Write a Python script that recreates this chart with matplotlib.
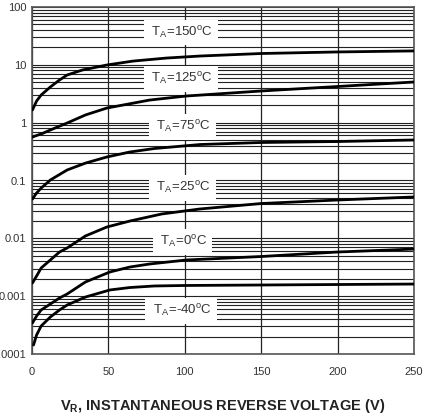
import numpy as np
import matplotlib
matplotlib.use('Agg')
import matplotlib.pyplot as plt

plt.rcParams['font.family'] = ['Liberation Sans', 'DejaVu Sans']
plt.rcParams['mathtext.fontset'] = 'custom'
plt.rcParams['mathtext.rm'] = 'Liberation Sans'
plt.rcParams['mathtext.bf'] = 'Liberation Sans:bold'

# Reverse current curves (V, I), one pair per temperature
v_150 = [0.3, 3, 6, 12, 18, 23, 33, 49, 66, 88, 110, 150, 200, 250]
i_150 = [1.66, 2.37, 3.01, 4.14, 5.47, 6.67, 8.14, 9.93, 11.6, 13.1, 14.2, 15.7, 16.7, 17.4]

v_125 = [0.3, 3, 6, 12, 23, 35, 49, 77, 101, 150, 200, 250]
i_125 = [0.565, 0.600, 0.637, 0.747, 0.986, 1.36, 1.79, 2.46, 2.89, 3.53, 4.22, 5.05]

v_75 = [0.3, 3, 6, 12, 23, 35, 49, 64, 80, 110, 150, 200, 250]
i_75 = [0.0479, 0.0608, 0.0741, 0.102, 0.152, 0.200, 0.255, 0.311, 0.357, 0.419, 0.454, 0.472, 0.502]

v_25 = [0.3, 3, 6, 12, 18, 23, 35, 49, 64, 85, 110, 150, 200, 250]
i_25 = [1.69e-3, 2.23e-3, 3.07e-3, 4.22e-3, 5.80e-3, 6.81e-3, 0.0110, 0.0157, 0.0199,
        0.0264, 0.0322, 0.0400, 0.0460, 0.0519]

v_0 = [0.3, 3, 6, 12, 18, 23, 35, 51, 64, 77, 101, 136, 150, 200, 250]
i_0 = [3.44e-4, 4.54e-4, 5.77e-4, 7.32e-4, 9.29e-4, 1.09e-3, 1.76e-3, 2.62e-3, 3.19e-3,
       3.60e-3, 4.22e-3, 4.66e-3, 4.85e-3, 5.80e-3, 6.53e-3]

v_m40 = [1, 3, 6, 12, 18, 23, 35, 51, 64, 80, 100, 150, 200, 250]
i_m40 = [1.43e-4, 2.13e-4, 3.05e-4, 4.36e-4, 5.77e-4, 7.03e-4, 9.67e-4, 1.28e-3, 1.41e-3,
         1.50e-3, 1.53e-3, 1.56e-3, 1.59e-3, 1.62e-3]

curves = [(v_150, i_150), (v_125, i_125), (v_75, i_75),
          (v_25, i_25), (v_0, i_0), (v_m40, i_m40)]

# temperature labels and where they sit
temps = ['150', '125', '75', '25', '0', '-40']
label_v = [97.5, 97.5, 98.5, 98.5, 98.5, 97.5]
label_i = [36.2, 5.69, 0.841, 0.0741, 8.63e-3, 5.53e-4]

x_ticks = [0, 50, 100, 150, 200, 250]
y_ticks = [1e-4, 1e-3, 1e-2, 1e-1, 1, 10, 100]
y_ticklabels = ['0.0001', '0.001', '0.01', '0.1', '1', '10', '100']

fig = plt.figure(figsize=(4.28, 4.15), dpi=100)
ax = fig.add_axes([32/428, 61/415, 382/428, 347/415])

ax.set_yscale('log')
ax.set_xlim(0, 250)
ax.set_ylim(1e-4, 100)

#grid: vertical majors + every log line horizontally
ax.set_xticks(x_ticks)
ax.set_yticks(y_ticks)
ax.set_yticklabels(y_ticklabels)
ax.grid(True, which='major', axis='x', color='#222222', lw=0.9)
ax.grid(True, which='both', axis='y', color='#222222', lw=0.8)
ax.tick_params(which='both', length=0, labelsize=8, colors='#333333')
ax.tick_params(axis='x', pad=9)
ax.tick_params(axis='y', pad=4)

for v, i in curves:
    ax.plot(v, i, color='black', lw=2.0, solid_capstyle='round', zorder=3)

for t, lv, li in zip(temps, label_v, label_i):
    ax.text(lv, li, r' T$_{\mathregular{A}}$=' + t + r'$^{\mathregular{o}}$C ',
            ha='center', va='center', fontsize=9.5, color='#333333', zorder=5,
            bbox=dict(boxstyle='square,pad=0.35', fc='white', ec='none'))

for s in ax.spines.values():
    s.set_color('#555555')
    s.set_linewidth(1.2)

ax.set_xlabel(r'V$_{\mathbf{R}}$, INSTANTANEOUS REVERSE VOLTAGE (V)',
              fontsize=10.5, fontweight='bold', color='#222222', labelpad=15)

fig.savefig('out.png', dpi=100)
